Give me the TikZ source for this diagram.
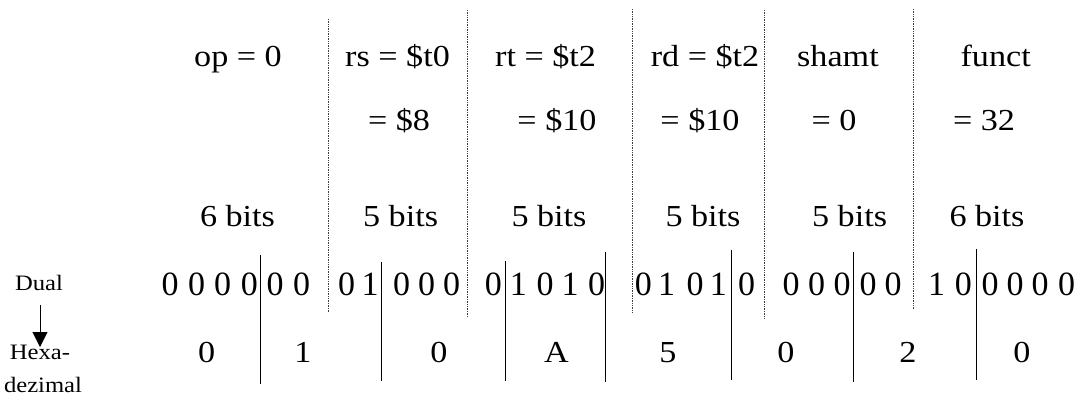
\documentclass[tikz,border=0pt]{standalone}
\usepackage{fontspec}
\usetikzlibrary{arrows.meta}
\newfontfamily\tnr[FakeStretch=1.12]{Liberation Serif}
\newfontfamily\tnrn{Liberation Serif}
\begin{document}
\begin{tikzpicture}[x=1pt,y=-1pt,
  lbl/.style={anchor=base,inner sep=0pt,font=\tnr\fontsize{30.5}{36}\selectfont},
  dig/.style={anchor=base,inner sep=0pt,font=\tnrn\fontsize{34}{40}\selectfont},
  hex/.style={anchor=base,inner sep=0pt,font=\tnr\fontsize{30.5}{36}\selectfont},
  small/.style={anchor=base,inner sep=0pt,font=\tnr\fontsize{22}{26}\selectfont},
  sep/.style={densely dotted,line width=0.7pt,black!75},
  bar/.style={line width=1pt,black}]
\useasboundingbox (0,0) rectangle (1084,397);
% row 1
\node[lbl] (op) at (238,66.7) {op = 0};
\node[lbl] (rs) at (397.5,66.7) {rs = \$t0};
\node[lbl] (rt) at (545.6,66.7) {rt = \$t2};
\node[lbl] (rd) at (705,66.7) {rd = \$t2};
\node[lbl] (sh) at (838,66.7) {shamt};
\node[lbl] (fu) at (995.7,66.7) {funct};
% row 2
\node[lbl] (rs2) at (399,130) {= \$8};
\node[lbl] (rt2) at (557,130) {= \$10};
\node[lbl] (rd2) at (700,130) {= \$10};
\node[lbl] (sh2) at (834,130) {= 0};
\node[lbl] (fu2) at (984,130) {= 32};
% row 3
\node[lbl] (b1) at (237.5,226.7) {6 bits};
\node[lbl] (b2) at (400.6,226.7) {5 bits};
\node[lbl] (b3) at (549,226.7) {5 bits};
\node[lbl] (b4) at (703,226.7) {5 bits};
\node[lbl] (b5) at (849.6,226.7) {5 bits};
\node[lbl] (b6) at (987,226.7) {6 bits};
% dotted separators
\draw[sep] (328,19) -- (328,312);
\draw[sep] (467,10) -- (467,317);
\draw[sep] (632,9) -- (632,313);
\draw[sep] (764,10) -- (764,318);
\draw[sep] (913,9) -- (913,309);
% binary digits
\foreach \x/\d [count=\i] in {170/0,196.7/0,222.7/0,249.3/0,275/0,301.7/0,
  346.7/0,370/1,401.7/0,426.7/0,451.7/0,
  493.3/0,518.3/1,545/0,570/1,596.7/0,
  643.3/0,666.7/1,695/0,718.3/1,746.7/0,
  791/0,816.5/0,842/0,868/0,893/0,
  936.7/1,963.3/0,990/0,1015/0,1040/0,1066.7/0}
  \node[dig] (d\i) at (\x,295) {\d};
% hex digits
\foreach \x/\d [count=\i] in {206.6/0,303/1,439/0,556.5/A,668/5,786/0,908/2,1022/0}
  \node[hex] (h\i) at (\x,362) {\d};
% nibble bars
\draw[bar] (260.7,255) -- (260.7,384);
\draw[bar] (381,262) -- (381,381);
\draw[bar] (505,261) -- (505,381);
\draw[bar] (605,252) -- (605,382);
\draw[bar] (731,250) -- (731,380);
\draw[bar] (853,252) -- (853,382);
\draw[bar] (976,249) -- (976,380);
% left labels
\node[small] (dual) at (39,290) {Dual};
\node[small] (hexa) at (40,359) {Hexa-};
\node[small] (dez) at (43,392) {dezimal};
\coordinate (as) at (40,305);
\coordinate (ae) at (40,347);
\draw[line width=1pt,-{Triangle[width=15pt,length=15pt]}] (as) -- (ae);
\end{tikzpicture}
\end{document}
